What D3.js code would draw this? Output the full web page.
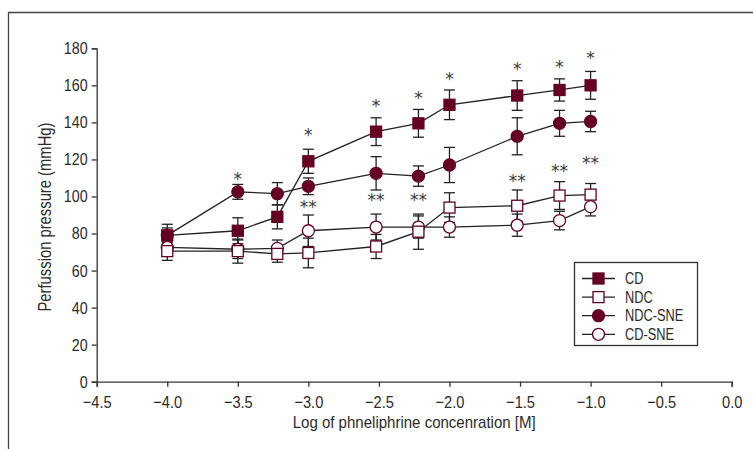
<!DOCTYPE html>
<html>
<head>
<meta charset="utf-8">
<script src="https://cdn.jsdelivr.net/npm/d3@7"></script>
<style>
  html, body { margin: 0; padding: 0; background: #fff; }
  text { font-family: "Liberation Sans", "DejaVu Sans", sans-serif; fill: #2b2b2b; }
</style>
</head>
<body>
<div id="chart"></div>
<script>
// x positions (log of concentration)
const xValues = [-4, -3.5, -3.22, -3, -2.52, -2.22, -2, -1.52, -1.22, -1];

// series means and error bars (mmHg)
const cdMean = [79, 81.5, 89, 119, 135, 139.5, 149.5, 154.5, 157.5, 160];
const cdErr = [6, 7, 6.5, 6.5, 7.5, 7.5, 8, 8, 6, 7.5];
const ndcMean = [70.5, 70.5, 69, 69.5, 73, 81, 94, 95, 100.5, 101];
const ndcErr = [5, 6.5, 4.5, 8, 6.5, 9.5, 8, 8.5, 7.5, 6];
const ndcSneMean = [79, 102.5, 101.5, 105.5, 112.5, 111, 117, 132.5, 139.5, 140.5];
const ndcSneErr = [4, 4, 6, 4.5, 9, 5.5, 9.5, 10, 7, 5.5];
const cdSneMean = [72.5, 71.5, 72, 81.5, 83.5, 83.5, 83.5, 84.5, 87, 94.5];
const cdSneErr = [4, 5, 4.5, 8.5, 7, 6, 5.5, 6, 5, 5];

// significance marks
const starX = [-3.5, -3, -3, -2.52, -2.52, -2.22, -2.22, -2, -1.52, -1.52, -1.22, -1.22, -1, -1];
const starY = [111.5, 135.5, 96.7, 151.2, 100.4, 155.7, 100.4, 165.6, 171, 110.5, 172.4, 116.1, 177, 120.6];
const starLabel = ['*', '*', '**', '*', '**', '*', '**', '*', '*', '**', '*', '**', '*', '**'];

// axis ticks
const xTicks = [-4.5, -4, -3.5, -3, -2.5, -2, -1.5, -1, -0.5, 0];
const yTicks = [0, 20, 40, 60, 80, 100, 120, 140, 160, 180];

const maroon = '#650022';
const ink = '#222';

const series = [
    { name: 'CD-SNE', mean: cdSneMean, err: cdSneErr, shape: 'circle', filled: false },
    { name: 'NDC', mean: ndcMean, err: ndcErr, shape: 'square', filled: false },
    { name: 'NDC-SNE', mean: ndcSneMean, err: ndcSneErr, shape: 'circle', filled: true },
    { name: 'CD', mean: cdMean, err: cdErr, shape: 'square', filled: true }
];
const legendOrder = ['CD', 'NDC', 'NDC-SNE', 'CD-SNE'];

const width = 753;
const height = 449;

// squeeze text horizontally to mimic the condensed face of the original
function condense(sel, factor) {
    sel.each(function() {
        const w = this.getComputedTextLength();
        d3.select(this)
            .attr('textLength', w * factor)
            .attr('lengthAdjust', 'spacingAndGlyphs');
    });
}

const svg = d3.select('#chart')
    .append('svg')
    .attr('width', width)
    .attr('height', height);

// outer frame (top and left edges only)
svg.append('path')
    .attr('d', 'M8.5,449 V12.5 H753')
    .attr('fill', 'none')
    .attr('stroke', '#444')
    .attr('stroke-width', 1.3);

const x = d3.scaleLinear().domain([-4.5, 0]).range([96.7, 731.7]);
const y = d3.scaleLinear().domain([0, 180]).range([381.7, 48.3]);

// axes
const xAxis = svg.append('g')
    .attr('transform', `translate(0,${y(0)})`)
    .call(d3.axisBottom(x).tickValues(xTicks).tickFormat(d3.format('.1f')).tickSize(5).tickPadding(9));
const yAxis = svg.append('g')
    .attr('transform', `translate(${x(-4.5)},0)`)
    .call(d3.axisLeft(y).tickValues(yTicks).tickSize(5).tickPadding(4));

[xAxis, yAxis].forEach(g => {
    g.select('.domain').attr('stroke', '#333').attr('stroke-width', 1.3);
    g.selectAll('.tick line').attr('stroke', '#333').attr('stroke-width', 1.3);
    g.selectAll('.tick text')
        .attr('font-family', null)
        .attr('fill', '#2b2b2b')
        .style('font-size', '17px');
});
condense(xAxis.selectAll('.tick text'), 0.86);
condense(yAxis.selectAll('.tick text'), 0.84);

// axis titles
svg.append('text')
    .attr('x', (x(-4.5) + x(0)) / 2)
    .attr('y', 428)
    .attr('text-anchor', 'middle')
    .attr('textLength', 243)
    .attr('lengthAdjust', 'spacingAndGlyphs')
    .style('font-size', '17px')
    .text('Log of phneliphrine concenration [M]');

svg.append('text')
    .attr('transform', `translate(51,217) rotate(-90)`)
    .attr('text-anchor', 'middle')
    .attr('textLength', 189)
    .attr('lengthAdjust', 'spacingAndGlyphs')
    .style('font-size', '18px')
    .text('Perfussion pressure (mmHg)');

// layers
const errLayer = svg.append('g');
const lineLayer = svg.append('g');
const markLayer = svg.append('g');

const line = d3.line()
    .x(d => x(d[0]))
    .y(d => y(d[1]));

function drawMarker(g, shape, filled, cx, cy) {
    if (shape === 'square') {
        g.append('rect')
            .attr('x', cx - 5.5)
            .attr('y', cy - 5.5)
            .attr('width', 11)
            .attr('height', 11)
            .attr('fill', filled ? maroon : '#fff')
            .attr('stroke', maroon)
            .attr('stroke-width', 1.3);
    } else {
        g.append('circle')
            .attr('cx', cx)
            .attr('cy', cy)
            .attr('r', 6)
            .attr('fill', filled ? maroon : '#fff')
            .attr('stroke', maroon)
            .attr('stroke-width', 1.3);
    }
}

series.forEach(s => {
    const pts = xValues.map((xv, i) => [xv, s.mean[i], s.err[i]]);

    // error bars
    pts.forEach(p => {
        const cx = x(p[0]);
        const top = y(p[1] + p[2]);
        const bot = y(p[1] - p[2]);
        const eg = errLayer.append('g').attr('stroke', ink).attr('stroke-width', 1.3);
        eg.append('line').attr('x1', cx).attr('x2', cx).attr('y1', top).attr('y2', bot);
        eg.append('line').attr('x1', cx - 5.5).attr('x2', cx + 5.5).attr('y1', top).attr('y2', top);
        eg.append('line').attr('x1', cx - 5.5).attr('x2', cx + 5.5).attr('y1', bot).attr('y2', bot);
    });

    lineLayer.append('path')
        .datum(pts)
        .attr('d', line)
        .attr('fill', 'none')
        .attr('stroke', ink)
        .attr('stroke-width', 1.3);

    pts.forEach(p => drawMarker(markLayer, s.shape, s.filled, x(p[0]), y(p[1])));
});

// asterisks
svg.append('g')
    .selectAll('text')
    .data(starX.map((d, i) => ({ x: d, y: starY[i], label: starLabel[i] })))
    .join('text')
    .attr('x', d => x(d.x))
    .attr('y', d => y(d.y))
    .attr('dy', '0.6em')
    .attr('text-anchor', 'middle')
    .style('font-family', '"DejaVu Sans", sans-serif')
    .style('font-size', '17px')
    .style('fill', '#3a3a3a')
    .text(d => d.label);

// legend
const legend = svg.append('g');
legend.append('rect')
    .attr('x', 574.5)
    .attr('y', 262.5)
    .attr('width', 123)
    .attr('height', 83)
    .attr('fill', '#fff')
    .attr('stroke', '#333')
    .attr('stroke-width', 1.3);

legendOrder.forEach((name, i) => {
    const s = series.find(d => d.name === name);
    const ly = 278.5 + i * 18.6;
    legend.append('line')
        .attr('x1', 582).attr('x2', 615)
        .attr('y1', ly).attr('y2', ly)
        .attr('stroke', ink)
        .attr('stroke-width', 1.3);
    drawMarker(legend, s.shape, s.filled, 598.5, ly);
    legend.append('text')
        .attr('x', 625)
        .attr('y', ly)
        .attr('dy', '0.36em')
        .style('font-size', '16px')
        .text(name);
});
condense(legend.selectAll('text'), 0.8);
</script>
</body>
</html>
